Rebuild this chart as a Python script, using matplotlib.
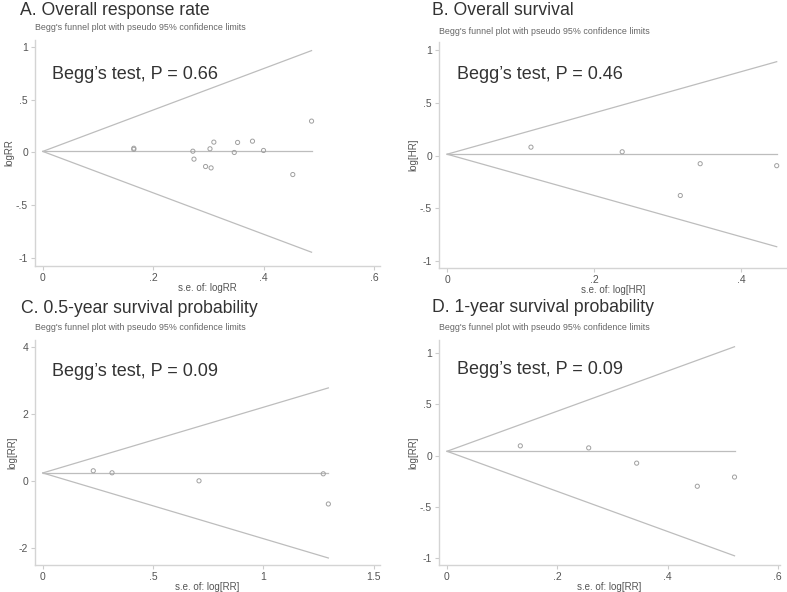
import numpy as np
import matplotlib
matplotlib.use("Agg")
import matplotlib.pyplot as plt
from matplotlib.ticker import FuncFormatter

plt.rcParams['font.family'] = ['Liberation Sans', 'DejaVu Sans']

# =============================================================================
# Data
# =============================================================================

# A. Overall response rate
se_a = [0.165, 0.165, 0.272, 0.274, 0.295, 0.305, 0.303, 0.31, 0.347, 0.353, 0.38, 0.40, 0.453, 0.487]
est_a = [0.03, 0.04, 0.012, -0.063, -0.133, -0.146, 0.035, 0.098, 0.0, 0.095, 0.107, 0.019, -0.209, 0.297]
pooled_a = 0.01

# B. Overall survival
se_b = [0.114, 0.238, 0.317, 0.344, 0.448]
est_b = [0.082, 0.038, -0.377, -0.075, -0.094]
pooled_b = 0.015

# C. 0.5-year survival probability
se_c = [0.229, 0.314, 0.708, 1.271, 1.294]
est_c = [0.30, 0.24, 0.0, 0.21, -0.69]
pooled_c = 0.235

# D. 1-year survival probability
se_d = [0.133, 0.257, 0.344, 0.454, 0.5215]
est_d = [0.095, 0.075, -0.074, -0.30, -0.21]
pooled_d = 0.042

titles = ["A. Overall response rate", "B. Overall survival",
          "C. 0.5-year survival probability", "D. 1-year survival probability"]
p_texts = ["Begg\u2019s test, P = 0.66", "Begg\u2019s test, P = 0.46",
           "Begg\u2019s test, P = 0.09", "Begg\u2019s test, P = 0.09"]
ylabels = ["logRR", "log[HR]", "log[RR]", "log[RR]"]
xlabels = ["s.e. of: logRR", "s.e. of: log[HR]", "s.e. of: log[RR]", "s.e. of: log[RR]"]
xticks = [[0, 0.2, 0.4, 0.6], [0, 0.2, 0.4], [0, 0.5, 1, 1.5], [0, 0.2, 0.4, 0.6]]
yticks = [[-1, -0.5, 0, 0.5, 1], [-1, -0.5, 0, 0.5, 1], [-2, 0, 2, 4], [-1, -0.5, 0, 0.5, 1]]
xlims = [(-0.014, 0.611), (-0.011, 0.462), (-0.035, 1.528), (-0.0145, 0.604)]
ylims = [(-1.075, 1.065), (-1.065, 1.08), (-2.51, 4.2), (-1.07, 1.13)]

W, H = 787, 592
# axes boxes in pixels: left, top, right, bottom
boxes = [(35, 40, 380, 266), (439, 42, 787, 268), (35, 340, 380, 565), (439, 340, 780, 565)]
# baselines of the texts, in pixels from the top-left corner
title_pos = [(20, 15), (432, 15), (21, 313), (432, 312)]
sub_pos = [(35, 27), (439, 31), (35, 328), (439, 328)]
ptxt_pos = [(52, 79), (457, 79), (52, 376), (457, 374)]

data = [(se_a, est_a, pooled_a), (se_b, est_b, pooled_b),
        (se_c, est_c, pooled_c), (se_d, est_d, pooled_d)]

LINE = "#bdbdbd"
TXT = "#555555"


def fmt(v, pos):
    s = f"{v:g}"
    if s.startswith("0."):
        s = s[1:]
    elif s.startswith("-0."):
        s = "-" + s[2:]
    return s


fig = plt.figure(figsize=(W / 100, H / 100), dpi=100)

for i in range(4):
    l, t, r, b = boxes[i]
    ax = fig.add_axes([l / W, 1 - b / H, (r - l) / W, (b - t) / H])
    se, est, pooled = data[i]
    se_max = max(se)
    xs = np.array([0, se_max])

    # funnel lines: pooled estimate +/- 1.96 * se
    ax.plot(xs, pooled + 1.96 * xs, color=LINE, lw=0.9)
    ax.plot(xs, pooled - 1.96 * xs, color=LINE, lw=0.9)
    ax.plot(xs, [pooled, pooled], color=LINE, lw=0.9)

    ax.scatter(se, est, s=9, facecolors="none", edgecolors="#a0a0a0", linewidths=0.7, zorder=3)

    ax.set_xlim(*xlims[i])
    ax.set_ylim(*ylims[i])
    ax.set_xticks(xticks[i])
    ax.set_yticks(yticks[i])
    ax.xaxis.set_major_formatter(FuncFormatter(fmt))
    ax.yaxis.set_major_formatter(FuncFormatter(fmt))

    for sp in ["top", "right"]:
        ax.spines[sp].set_visible(False)
    for sp in ["left", "bottom"]:
        ax.spines[sp].set_color("#d4d4d4")
        ax.spines[sp].set_linewidth(1.0)
    ax.tick_params(colors="#cccccc", labelcolor=TXT, labelsize=7.5, length=3, width=0.8, pad=2)

    ax.set_xlabel(xlabels[i], fontsize=7, color=TXT, labelpad=0)
    ax.set_ylabel(ylabels[i], fontsize=7, color=TXT, labelpad=1)

    tx, ty = title_pos[i]
    fig.text(tx / W, 1 - ty / H, titles[i], fontsize=12.7, color="#333333", va="baseline", ha="left")
    sx, sy = sub_pos[i]
    fig.text(sx / W, 1 - sy / H, "Begg's funnel plot with pseudo 95% confidence limits",
             fontsize=6.4, color="#666666", va="center", ha="left")
    px, py = ptxt_pos[i]
    fig.text(px / W, 1 - py / H, p_texts[i], fontsize=13, color="#333333", va="baseline", ha="left")

fig.savefig("out.png", dpi=100, facecolor="white")
